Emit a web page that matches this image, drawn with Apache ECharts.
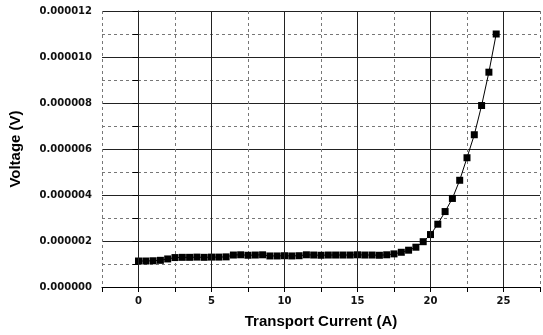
<!DOCTYPE html>
<html><head><meta charset="utf-8">
<script src="https://cdn.jsdelivr.net/npm/echarts@6/dist/echarts.min.js"></script>
<style>html,body{margin:0;padding:0;background:#fff}#c{width:543px;height:335px}</style>
</head><body><div id="c"></div>
<script>
// Transport current (A)
var current = [0,0.5,1,1.5,2,2.5,3,3.5,4,4.5,5,5.5,6,6.5,7,7.5,8,8.5,9,9.5,10,10.5,11,11.5,12,12.5,13,13.5,14,14.5,15,15.5,16,16.5,17,17.5,18,18.5,19,19.5,20,20.5,21,21.5,22,22.5,23,23.5,24,24.5];
// Voltage in microvolts (converted to V below)
var voltageUV = [1.13,1.13,1.14,1.16,1.22,1.28,1.29,1.29,1.30,1.29,1.30,1.30,1.31,1.39,1.40,1.38,1.39,1.40,1.35,1.35,1.36,1.35,1.36,1.40,1.39,1.38,1.39,1.39,1.39,1.39,1.40,1.39,1.39,1.38,1.40,1.44,1.51,1.60,1.73,1.97,2.28,2.73,3.28,3.85,4.64,5.62,6.62,7.89,9.34,11.0];
var xMajorLines = [0,5,10,15,20,25];
var xTitle = 'Transport Current (A)';
var yTitle = 'Voltage (V)';

var data = current.map(function(c,i){ return [c, voltageUV[i]*1e-6]; });
var font = 'DejaVu Sans';
var chart = echarts.init(document.getElementById('c'), null, {renderer:'canvas'});
chart.setOption({
  animation:false,
  backgroundColor:'#fff',
  grid:{left:98, right:1, top:11, bottom:48, containLabel:false},
  xAxis:{
    type:'value', min:-2.5, max:27.5, interval:2.5,
    name:xTitle, nameLocation:'middle', nameGap:27,
    nameTextStyle:{fontFamily:'Liberation Sans', fontWeight:'bold', fontSize:15, color:'#000'},
    axisLine:{show:true, onZero:false, lineStyle:{color:'#000', width:1}},
    axisTick:{show:true, inside:false, length:5, lineStyle:{color:'#000'}},
    axisLabel:{margin:9, fontFamily:font, fontWeight:'bold', fontSize:10, color:'#111',
      formatter:function(v){ return (Math.abs(v%5)<1e-9) ? String(v) : ''; }},
    splitLine:{show:true, lineStyle:{color:'#777', width:1, type:[3,3]}}
  },
  yAxis:{
    type:'value', min:0, max:12e-6, interval:2e-6,
    name:yTitle, nameLocation:'middle', nameGap:79, nameRotate:90,
    nameTextStyle:{fontFamily:'Liberation Sans', fontWeight:'bold', fontSize:15, color:'#000'},
    axisLine:{show:true, lineStyle:{color:'#000', width:1}},
    axisTick:{show:true, length:6, lineStyle:{color:'#000'}},
    minorTick:{show:true, splitNumber:2, length:6, lineStyle:{color:'#000'}},
    axisLabel:{margin:10, fontFamily:font, fontWeight:'bold', fontSize:10, color:'#111',
      formatter:function(v){ return v.toFixed(6); }},
    splitLine:{show:true, lineStyle:{color:'#222', width:1}},
    minorSplitLine:{show:true, lineStyle:{color:'#777', width:1, type:[3,3]}}
  },
  series:[{
    type:'line', data:data, symbol:'rect', symbolSize:7,
    itemStyle:{color:'#000'}, lineStyle:{color:'#000', width:1},
    markLine:{silent:true, symbol:'none', label:{show:false},
      lineStyle:{color:'#222', width:1, type:'solid'},
      data:xMajorLines.map(function(v){ return {xAxis:v}; })}
  }]
});
</script></body></html>
